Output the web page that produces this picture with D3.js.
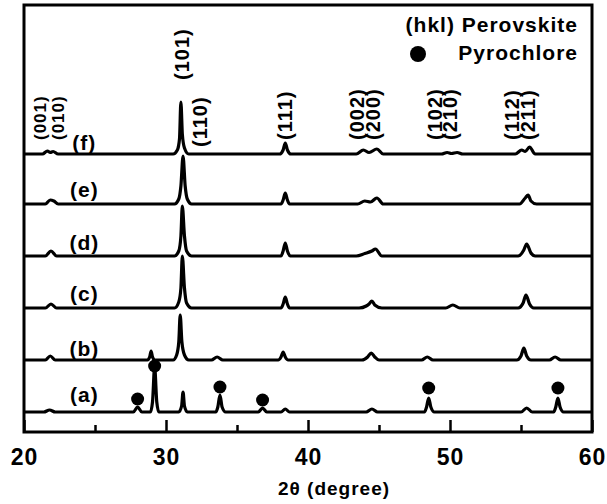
<!DOCTYPE html>
<html><head><meta charset="utf-8">
<script src="https://cdn.jsdelivr.net/npm/d3@7"></script>
<style>body{margin:0;background:#fff}text{font-family:"Liberation Sans",Arial,sans-serif;font-weight:bold;fill:#000;letter-spacing:1px}</style>
</head><body><svg id="chart" width="607" height="504"></svg>
<script>
const xTicks=[20,30,40,50,60];
const xMinorTicks=[25,35,45,55];
const sampleLabels=["(a)","(b)","(c)","(d)","(e)","(f)"];
const sampleOffsets=[0,52,104,156,208,258];
const sampleLabelLevel=[17,11,14,13,14,11];

const traceA=[[20,0],[21.4,0],[21.8,2],[22.2,0],[27.7,0],[28.0,5],[28.3,0],[28.9,0],[29.05,10],[29.2,45],[29.35,10],[29.5,0],
[30.9,0],[31.1,6],[31.2,20],[31.3,6],[31.5,0],[33.5,0],[33.65,5],[33.8,17],[33.95,5],[34.2,0],[36.5,0],[36.8,4],[37.1,0],
[38.1,0],[38.4,3],[38.7,0],[44.1,0],[44.5,3],[44.9,0],[48.2,0],[48.35,5],[48.5,14],[48.65,5],[48.9,0],
[55.0,0],[55.4,4],[55.8,0],[57.3,0],[57.45,5],[57.6,14],[57.75,5],[58.0,0],[60,0]];
const traceB=[[20,0],[21.5,0],[21.85,4],[22.2,0],[28.7,0],[28.85,3],[28.95,9],[29.05,3],[29.2,0],
[30.5,0],[30.75,5],[30.9,18],[31.0,45],[31.12,18],[31.3,5],[31.6,0],[33.2,0],[33.6,3],[34.0,0],
[37.9,0],[38.1,3],[38.25,8],[38.4,3],[38.6,0],[43.8,0],[44.2,3],[44.45,7],[44.7,3],[45.0,0],[48.0,0],[48.4,3],[48.8,0],
[54.7,0],[55.0,4],[55.2,12],[55.4,4],[55.7,0],[57.0,0],[57.4,3],[57.8,0],[60,0]];
const traceC=[[20,0],[21.5,0],[21.9,4],[22.3,0],[30.6,0],[30.9,6],[31.05,20],[31.15,52],[31.3,20],[31.45,5],[31.8,0],
[38.1,0],[38.25,4],[38.4,11],[38.55,4],[38.7,0],[43.6,0],[44.1,2],[44.3,4],[44.5,7],[44.7,3],[45.2,0],[49.7,0],[50.2,3],[50.7,0],
[54.8,0],[55.15,5],[55.35,13],[55.6,4],[55.9,0],[60,0]];
const traceD=[[20,0],[21.5,0],[21.9,5],[22.3,0],[30.6,0],[30.9,5],[31.05,20],[31.15,50],[31.3,20],[31.45,5],[31.8,0],
[38.1,0],[38.25,5],[38.4,13],[38.55,5],[38.75,0],[43.4,0],[44.0,2.5],[44.5,5],[44.75,7],[45.2,0],
[54.8,0],[55.2,6],[55.4,12],[55.7,3],[56.0,0],[60,0]];
const traceE=[[20,0],[21.5,0],[21.85,4],[22.1,3],[22.4,0],[30.6,0],[30.9,5],[31.05,18],[31.2,48],[31.35,18],[31.5,5],[31.8,0],
[38.1,0],[38.25,4],[38.4,11],[38.55,4],[38.7,0],[43.5,0],[44.0,3],[44.4,2],[44.85,6],[45.3,0],
[54.9,0],[55.3,6],[55.5,9],[55.7,3],[56.1,0],[60,0]];
const traceF=[[20,0],[21.3,0],[21.65,3],[21.85,1.5],[22.05,2.5],[22.4,0],[30.5,0],[30.8,4],[30.95,15],[31.05,52],[31.15,20],[31.3,6],[31.6,0],
[38.0,0],[38.25,4],[38.4,11],[38.55,4],[38.8,0],[43.4,0],[43.9,4],[44.3,1.5],[44.85,5],[45.3,0],
[49.4,0],[49.8,1.5],[50.1,0.5],[50.5,1.5],[50.9,0],[54.6,0],[55.05,4],[55.3,2.5],[55.6,7],[56.0,0],[60,0]];
const traces=[traceA,traceB,traceC,traceD,traceE,traceF];

const pyroPos=[28.0,29.2,33.8,36.8,48.5,57.6];
const pyroLevel=[13,46,25,12,24,24];

const hklLabels=["(001)","(010)","(101)","(110)","(111)","(002)","(200)","(102)","(210)","(112)","(211)"];
const hklPos=[21.13,22.39,31.13,32.39,38.38,43.45,44.58,48.94,50.0,54.37,55.49];
const hklLevel=[272,272,332,265,272,272,272,272,272,272,272];
const hklSize=[17,17,20,20,20,20,20,20,20,20,20];

const legendTexts=["(hkl) Perovskite","Pyrochlore"];

const svg=d3.select("#chart");
const x=d3.scaleLinear().domain([20,60]).range([24,592]);
const y=d3.scaleLinear().domain([-20,407]).range([432,5]);

const line=d3.line().x(d=>x(d[0])).curve(d3.curveMonotoneX);
traces.forEach((t,i)=>{
  svg.append("path").datum(t)
    .attr("d",line.y(d=>y(d[1]+sampleOffsets[i])))
    .attr("fill","none").attr("stroke","#000").attr("stroke-width",3.2)
    .attr("stroke-linejoin","round");
});

svg.selectAll("circle.pyro").data(pyroPos).join("circle")
  .attr("cx",d=>x(d)).attr("cy",(d,i)=>y(pyroLevel[i]+sampleOffsets[0]))
  .attr("r",6.5).attr("fill","#000");

svg.selectAll("text.sample").data(sampleLabels).join("text")
  .attr("x",x(24.25)).attr("y",(d,i)=>y(sampleLabelLevel[i]+sampleOffsets[i]))
  .attr("dy","0.35em").attr("text-anchor","middle").style("font-size","21px").text(d=>d);

svg.selectAll("text.hkl").data(hklLabels).join("text")
  .attr("transform",(d,i)=>`translate(${x(hklPos[i])},${y(hklLevel[i])}) rotate(-90)`)
  .attr("dy","0.36em").attr("text-anchor","start").style("font-size",(d,i)=>hklSize[i]+"px").text(d=>d);

svg.append("rect").attr("x",24).attr("y",5).attr("width",568).attr("height",427)
  .attr("fill","none").attr("stroke","#000").attr("stroke-width",3);

const ax=svg.append("g").attr("transform","translate(0,432)")
  .call(d3.axisBottom(x).tickValues(xTicks).tickSize(-12).tickPadding(17).tickFormat(d3.format("d")));
ax.select(".domain").remove();
ax.selectAll("line").attr("stroke","#000").attr("stroke-width",2.5);
ax.selectAll("text").style("font-size","23px").attr("font-family",null);
const axm=svg.append("g").attr("transform","translate(0,432)")
  .call(d3.axisBottom(x).tickValues(xMinorTicks).tickSize(-7).tickFormat(""));
axm.select(".domain").remove();
axm.selectAll("line").attr("stroke","#000").attr("stroke-width",2.5);

svg.append("text").attr("x",334).attr("y",495).attr("text-anchor","middle")
  .style("font-size","19px").text("2θ (degree)");

svg.append("text").attr("x",578).attr("y",32).attr("text-anchor","end").style("font-size","21px").text(legendTexts[0]);
svg.append("circle").attr("cx",418).attr("cy",54).attr("r",8).attr("fill","#000");
svg.append("text").attr("x",578).attr("y",60).attr("text-anchor","end").style("font-size","21px").text(legendTexts[1]);
</script></body></html>
